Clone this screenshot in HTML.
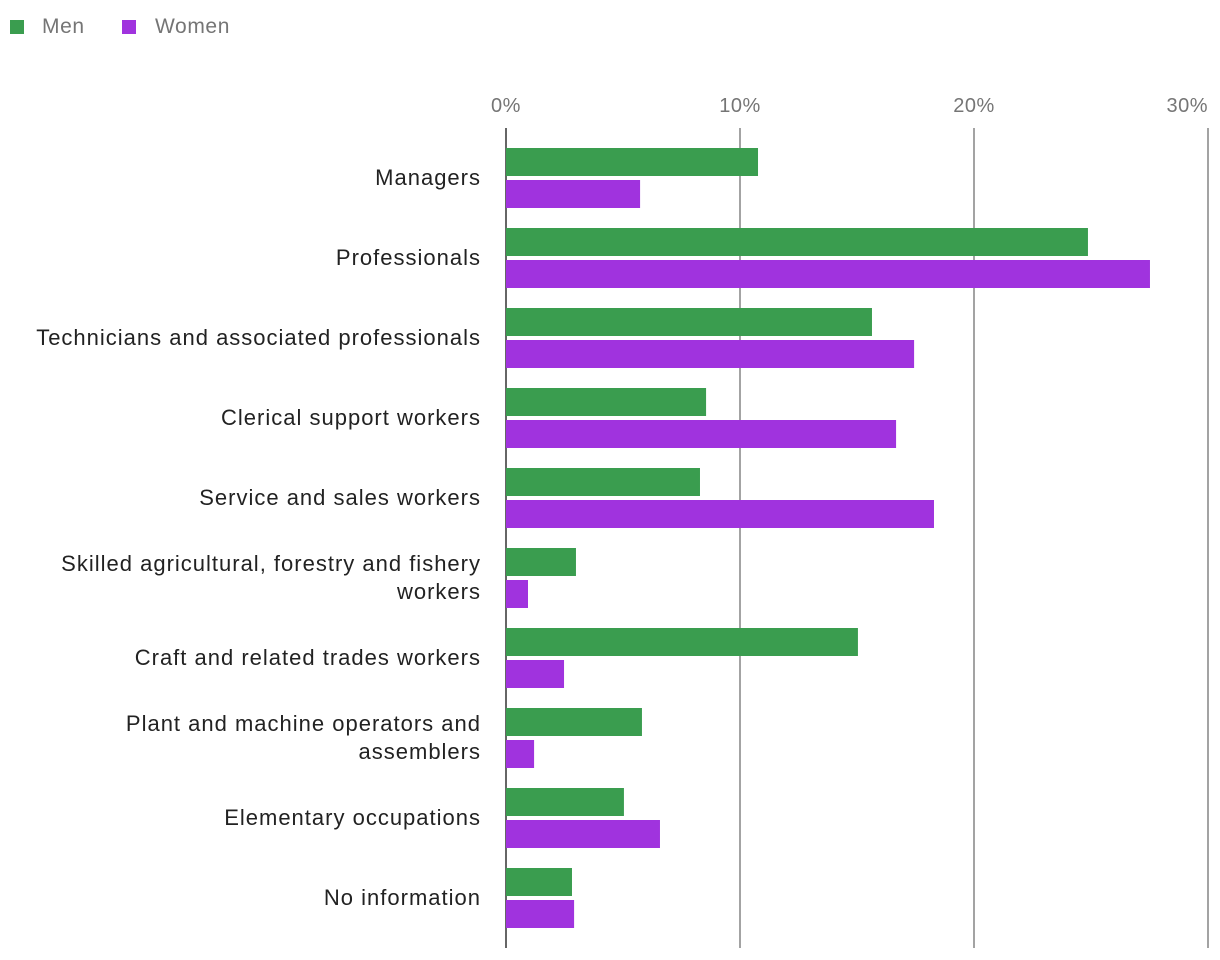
<!DOCTYPE html>
<html><head><meta charset="utf-8"><style>
html,body{margin:0;padding:0;background:#fff;}
svg{display:block;font-family:"Liberation Sans",Roboto,sans-serif;}
</style></head><body>
<svg id="chart" width="1220" height="960">
<g id="legend">
<g><rect x="10" y="20" width="14" height="14" fill="#3a9d4f"/><text x="42" y="33" font-size="21" letter-spacing="0.6" fill="#757575">Men</text></g>
<g><rect x="122" y="20" width="14" height="14" fill="#a033de"/><text x="155" y="33" font-size="21" letter-spacing="0.6" fill="#757575">Women</text></g>
</g>
<g id="grid"></g>
<g id="bars"></g>
<g id="labels"></g>
</svg>
<script>
const categories=[["Managers"],["Professionals"],["Technicians and associated professionals"],["Clerical support workers"],["Service and sales workers"],["Skilled agricultural, forestry and fishery","workers"],["Craft and related trades workers"],["Plant and machine operators and","assemblers"],["Elementary occupations"],["No information"]];
const men=[10.77,24.87,15.64,8.55,8.29,2.99,15.04,5.81,5.04,2.82];
const women=[5.73,27.52,17.44,16.67,18.29,0.94,2.48,1.2,6.58,2.91];
const ticks=[0,10,20,30];
const tickLabels=["0%","10%","20%","30%"];
const NS="http://www.w3.org/2000/svg";
const x=v=>506+v*23.4;
const y=i=>138+i*80;
function mk(t,a,p){const e=document.createElementNS(NS,t);for(const k in a)e.setAttribute(k,a[k]);p.appendChild(e);return e;}
const grid=document.getElementById('grid'),bars=document.getElementById('bars'),labels=document.getElementById('labels');
ticks.forEach((t,i)=>{
 const l=mk('line',{x1:x(t),x2:x(t),y1:128,y2:948,stroke:i==0?'#333':'#666','stroke-width':i==0?1.5:1.2},grid);
 
 
 const last=i==ticks.length-1;
 const tx=mk('text',{x:last?x(t):x(t),y:112,'font-size':20,'letter-spacing':0.5,fill:'#757575','text-anchor':last?'end':'middle'},grid);
 tx.textContent=tickLabels[i];
 
 
});
categories.forEach((c,i)=>{
 const b1=mk('rect',{x:x(0),y:y(i)+10,width:x(men[i])-x(0),height:28,fill:'#3a9d4f'},bars);
 
 
 const b2=mk('rect',{x:x(0),y:y(i)+42,width:x(women[i])-x(0),height:28,fill:'#a033de'},bars);
 
 
 const cy=y(i)+40;
 c.forEach((line,j)=>{
  const yy=c.length==1?cy+7:cy-14+j*28+7;
  const t=mk('text',{x:481,y:yy,'font-size':22,'letter-spacing':1,fill:'#222','text-anchor':'end'},labels);
  t.textContent=line;
  
  
 });
});
</script>
</body></html>
